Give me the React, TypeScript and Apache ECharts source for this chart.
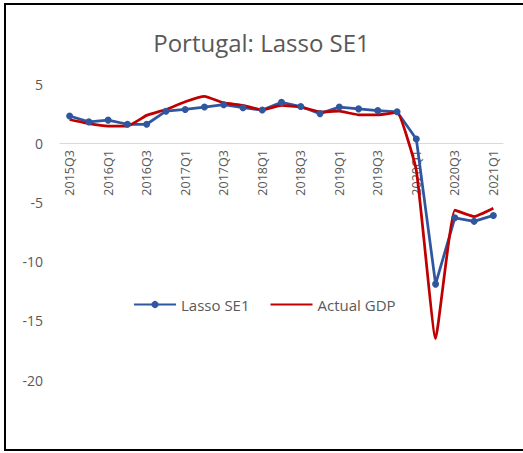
import React, { useEffect, useRef } from "react";
import * as echarts from "echarts";

const categories = [
  "2015Q3", "2015Q4", "2016Q1", "2016Q2", "2016Q3", "2016Q4",
  "2017Q1", "2017Q2", "2017Q3", "2017Q4", "2018Q1", "2018Q2",
  "2018Q3", "2018Q4", "2019Q1", "2019Q2", "2019Q3", "2019Q4",
  "2020Q1", "2020Q2", "2020Q3", "2020Q4", "2021Q1",
];
const lassoSE1 = [
  2.3, 1.8, 1.95, 1.6, 1.6, 2.7, 2.85, 3.05, 3.25, 3.0, 2.8, 3.45,
  3.1, 2.5, 3.05, 2.9, 2.75, 2.65, 0.35, -11.9, -6.3, -6.6, -6.1,
];
const actualGDP = [
  2.0, 1.65, 1.45, 1.45, 2.35, 2.85, 3.5, 3.95, 3.4, 3.2, 2.8, 3.2,
  3.05, 2.65, 2.7, 2.4, 2.4, 2.6, -2.3, -16.5, -5.65, -6.2, -5.5,
];
const yTicks = { min: -20, max: 5, interval: 5 };

const FONT = "'Open Sans', 'Liberation Sans', sans-serif";
const GRAY = "#595959";
const BLUE = "#2F569F";
const RED = "#C00000";

export default function App() {
  const ref = useRef<HTMLDivElement>(null);
  useEffect(() => {
    document.body.style.margin = "0";
    if (!ref.current) return;
    const chart = echarts.init(ref.current, undefined, { renderer: "svg" });
    const gridTop = 84;
    const gridBottom = 73;
    const plotH = 453 - gridTop - gridBottom;
    const zeroOffset = (plotH * yTicks.max) / (yTicks.max - yTicks.min);
    chart.setOption({
      animation: false,
      backgroundColor: "#ffffff",
      title: {
        text: "Portugal: Lasso SE1",
        left: "center",
        top: 25,
        textStyle: { fontFamily: FONT, fontSize: 24, fontWeight: "normal", color: GRAY },
      },
      graphic: [
        {
          type: "rect",
          shape: { x: 5, y: 4, width: 540, height: 446 },
          style: { fill: "none", stroke: "#000", lineWidth: 2 },
          silent: true,
        },
      ],
      legend: {
        left: 128,
        top: 292,
        itemWidth: 42,
        itemHeight: 9,
        itemGap: 20,
        textStyle: { fontFamily: FONT, fontSize: 15, color: GRAY },
        data: [
          { name: "Lasso SE1" },
          { name: "Actual GDP", itemStyle: { opacity: 0 } },
        ],
      },
      grid: [
        { left: 60, right: 20, top: gridTop, bottom: gridBottom },
        { left: 60, right: 20, top: gridTop, height: zeroOffset },
      ],
      xAxis: [
        {
          type: "category",
          data: categories,
          boundaryGap: true,
          axisLine: { onZero: true, lineStyle: { color: "#d9d9d9", width: 1 } },
          axisTick: { show: false },
          axisLabel: { show: false },
        },
        {
          type: "category",
          gridIndex: 1,
          data: categories,
          boundaryGap: true,
          axisLine: { show: false },
          axisTick: { show: false },
          axisLabel: {
            interval: 1,
            rotate: 90,
            margin: 7,
            fontFamily: FONT,
            fontSize: 12.5,
            color: GRAY,
          },
        },
      ],
      yAxis: [
        {
          type: "value",
          min: yTicks.min,
          max: yTicks.max,
          interval: yTicks.interval,
          axisLine: { show: false },
          axisTick: { show: false },
          splitLine: { show: false },
          axisLabel: { margin: 17, fontFamily: FONT, fontSize: 14, color: GRAY },
        },
        {
          type: "value",
          gridIndex: 1,
          min: 0,
          max: yTicks.max,
          show: false,
        },
      ],
      series: [
        {
          name: "Lasso SE1",
          type: "line",
          data: lassoSE1,
          symbol: "circle",
          symbolSize: 7,
          lineStyle: { color: BLUE, width: 2.75 },
          itemStyle: { color: BLUE },
        },
        {
          name: "Actual GDP",
          type: "line",
          data: actualGDP,
          symbol: "none",
          smooth: 0.12,
          lineStyle: { color: RED, width: 2.75 },
          itemStyle: { color: RED },
        },
      ],
    });
    return () => chart.dispose();
  }, []);
  return <div ref={ref} style={{ width: 523, height: 453 }} />;
}
